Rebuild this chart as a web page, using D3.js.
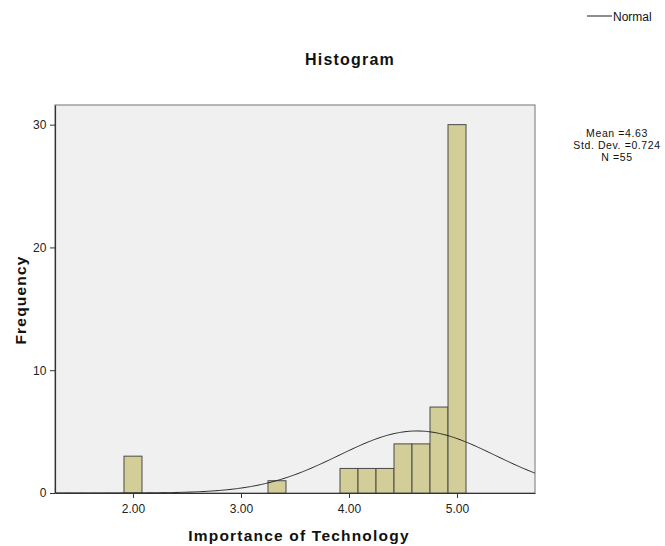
<!DOCTYPE html>
<html>
<head>
<meta charset="utf-8">
<script src="https://cdn.jsdelivr.net/npm/d3@7"></script>
<style>
  html, body { margin: 0; padding: 0; background: #ffffff; }
  svg { display: block; font-family: "Liberation Sans", Arial, sans-serif; }
</style>
</head>
<body>
<svg id="chart" width="665" height="546"></svg>
<script>
// Histogram bins: centre value and count (bin width 1/6)
const binCenters = [2.0, 3.3333, 4.0, 4.1667, 4.3333, 4.5, 4.6667, 4.8333, 5.0];
const binCounts  = [3, 1, 2, 2, 2, 4, 4, 7, 30];
const binWidth = 1 / 6;

// Summary statistics for the normal curve
const statMean = 4.63;
const statSD = 0.724;
const statN = 55;

const xTicks = [2, 3, 4, 5];
const yTicks = [0, 10, 20, 30];

const svg = d3.select("#chart");
const plot = { left: 55, right: 535, top: 105, bottom: 493 };

const x = d3.scaleLinear().domain([1.278, 5.722]).range([plot.left, plot.right]);
const y = d3.scaleLinear().domain([0, 31.6]).range([plot.bottom, plot.top]);

// Plot background
svg.append("rect")
  .attr("x", plot.left).attr("y", plot.top)
  .attr("width", plot.right - plot.left).attr("height", plot.bottom - plot.top)
  .attr("fill", "#f0f0f0").attr("stroke", "#8a8a8a").attr("stroke-width", 1.2);

svg.append("defs").append("clipPath").attr("id", "clip")
  .append("rect")
  .attr("x", plot.left).attr("y", plot.top)
  .attr("width", plot.right - plot.left).attr("height", plot.bottom - plot.top);

// Bars
svg.append("g").selectAll("rect")
  .data(binCenters.map((c, i) => ({ c, n: binCounts[i] })))
  .join("rect")
  .attr("x", d => x(d.c - binWidth / 2))
  .attr("y", d => y(d.n))
  .attr("width", d => x(d.c + binWidth / 2) - x(d.c - binWidth / 2))
  .attr("height", d => y(0) - y(d.n))
  .attr("fill", "#d3ce97")
  .attr("stroke", "#4a4a4a")
  .attr("stroke-width", 1);

// Normal curve scaled to counts
const scale = statN * binWidth;
const curveData = d3.range(1.278, 5.73, 0.01).map(v => ({
  v,
  f: scale * Math.exp(-0.5 * ((v - statMean) / statSD) ** 2) / (statSD * Math.sqrt(2 * Math.PI))
}));
svg.append("path")
  .datum(curveData)
  .attr("clip-path", "url(#clip)")
  .attr("fill", "none")
  .attr("stroke", "#222")
  .attr("stroke-width", 1)
  .attr("d", d3.line().x(d => x(d.v)).y(d => y(d.f)).curve(d3.curveBasis));

// Axes
const xAxis = svg.append("g")
  .attr("transform", `translate(0,${plot.bottom})`)
  .call(d3.axisBottom(x).tickValues(xTicks).tickFormat(d3.format(".2f")).tickSize(5).tickSizeOuter(0));
const yAxis = svg.append("g")
  .attr("transform", `translate(${plot.left},0)`)
  .call(d3.axisLeft(y).tickValues(yTicks).tickSize(5).tickSizeOuter(0));

[xAxis, yAxis].forEach(g => {
  g.select(".domain").attr("stroke", "#333").attr("stroke-width", 1.2);
  g.selectAll(".tick line").attr("stroke", "#333");
  g.selectAll(".tick text").attr("fill", "#222").attr("font-size", 12)
    .attr("font-family", "Liberation Sans, Arial, sans-serif");
});
xAxis.selectAll(".tick text").attr("dy", "1.0em");
yAxis.selectAll(".tick text").attr("dx", "-0.05em");

// Titles
svg.append("text")
  .attr("x", 350).attr("y", 65)
  .attr("text-anchor", "middle")
  .attr("font-size", 16).attr("font-weight", "bold").attr("fill", "#111")
  .attr("letter-spacing", 1.2)
  .text("Histogram");

svg.append("text")
  .attr("x", 299).attr("y", 541)
  .attr("text-anchor", "middle")
  .attr("font-size", 15.5).attr("font-weight", "bold").attr("fill", "#111")
  .attr("letter-spacing", 1.2)
  .text("Importance of Technology");

svg.append("text")
  .attr("transform", "translate(26,300) rotate(-90)")
  .attr("text-anchor", "middle")
  .attr("font-size", 15.5).attr("font-weight", "bold").attr("fill", "#111")
  .attr("letter-spacing", 1.2)
  .text("Frequency");

// Legend
svg.append("line")
  .attr("x1", 587).attr("x2", 612).attr("y1", 16).attr("y2", 16)
  .attr("stroke", "#444").attr("stroke-width", 1.2);
svg.append("text")
  .attr("x", 613).attr("y", 21)
  .attr("font-size", 12).attr("fill", "#111")
  .text("Normal");

// Statistics box
const stats = [`Mean =${statMean.toFixed(2)}`, `Std. Dev. =${statSD.toFixed(3)}`, `N =${statN}`];
svg.append("g").selectAll("text")
  .data(stats)
  .join("text")
  .attr("x", 617)
  .attr("y", (d, i) => 137 + i * 11.8)
  .attr("text-anchor", "middle")
  .attr("font-size", 10.5).attr("letter-spacing", 0.6).attr("fill", "#111")
  .text(d => d);
</script>
</body>
</html>
